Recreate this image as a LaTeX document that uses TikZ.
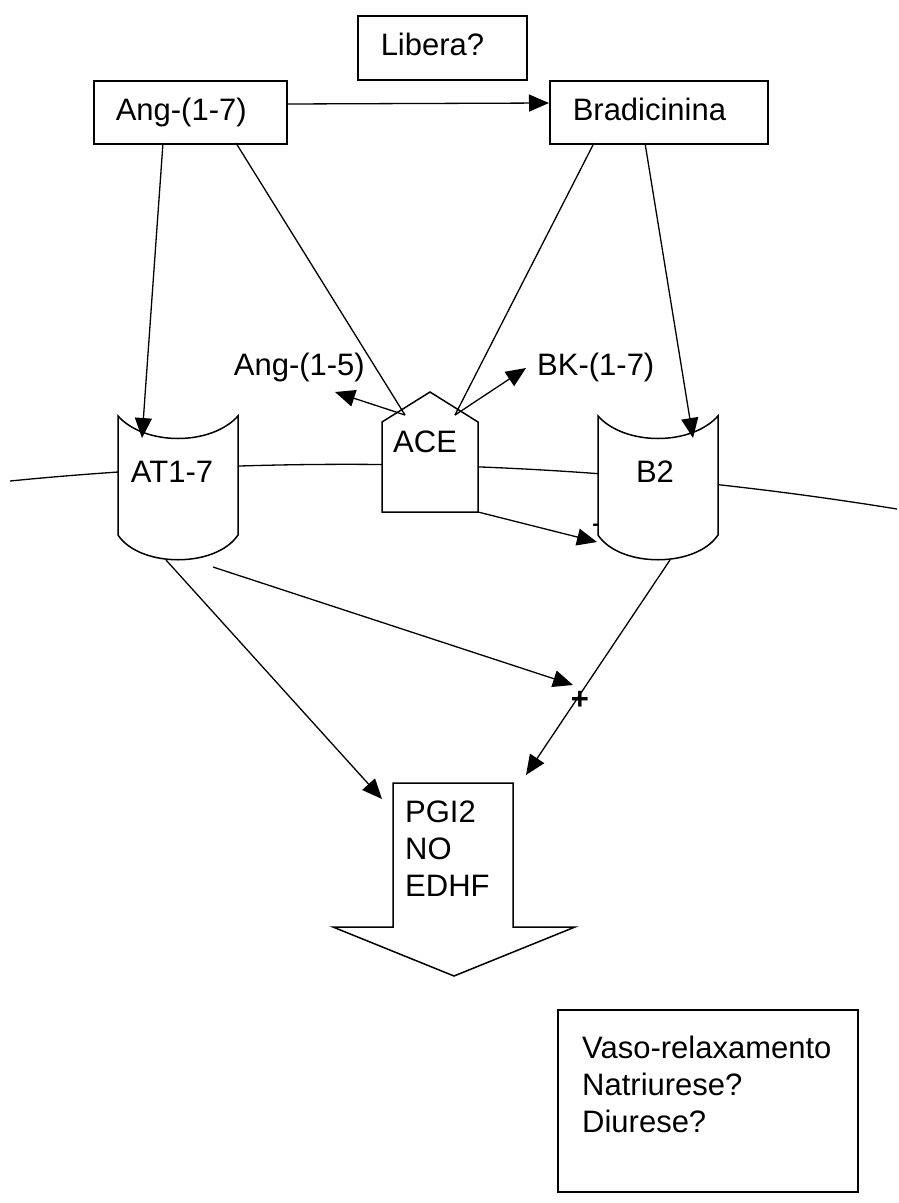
\documentclass[tikz,border=0pt]{standalone}
\usepackage{fontspec}
\setmainfont{Liberation Sans}
\usetikzlibrary{arrows.meta}
\begin{document}
\begin{tikzpicture}[x=1pt,y=-1pt,
  every node/.style={font=\fontsize{31}{37}\selectfont},
  shapeline/.style={line width=1.5pt, fill=white},
  conn/.style={line width=1.3pt},
  arr/.style={conn, -{Triangle[length=20pt,width=17pt]}},
  box/.style={draw, line width=1.5pt, fill=white, rectangle, anchor=north west, align=left, inner ysep=0pt, text height=22pt, text depth=6pt},
  lbl/.style={inner sep=0pt},
]
\useasboundingbox (0,0) rectangle (899,1203);
% membrane
\draw[line width=1.3pt] (10,481) .. controls (305.7,451.7) and (601.3,461) .. (897,509);
% top boxes
\node[box, minimum width=169pt, minimum height=64pt, text width=123pt, inner xsep=23pt] (libera) at (357,15) {Libera?};
\node[box, minimum width=193pt, minimum height=63pt, text width=149pt, inner xsep=22pt] (ang) at (93,80) {Ang-(1-7)};
\node[box, minimum width=218pt, minimum height=63pt, text width=172pt, inner xsep=23pt] (brad) at (549,80) {Bradicinina};
% minus sign (partly hidden by B2)
\node[lbl] (minus) at (597,529) {-};
% receptors
\draw[shapeline] (118,416) .. controls (145,446) and (211,446) .. (238,416) -- (238,535) .. controls (216,568) and (140,568) .. (118,535) -- cycle;
\node[lbl, anchor=base] (at17) at (172,482) {AT1-7};
\draw[shapeline] (598,416) .. controls (625,446) and (691,446) .. (718,416) -- (718,535) .. controls (696,568) and (620,568) .. (598,535) -- cycle;
\node[lbl, anchor=base] (b2) at (655,482) {B2};
% ACE
\draw[shapeline] (382,422) -- (430,392) -- (478,422) -- (478,512) -- (382,512) -- cycle;
\node[lbl, anchor=base west] (ace) at (393,452) {ACE};
% labels
\node[lbl, anchor=base east] (ang15) at (365,375) {Ang-(1-5)};
\node[lbl, anchor=base west] (bk17) at (537,375) {BK-(1-7)};
% PGI2 block arrow
\draw[shapeline] (393,783) -- (513,783) -- (513,927) -- (575,927) -- (454,976) -- (333,927) -- (393,927) -- cycle;
\node[lbl, anchor=north west, align=left] (pgi) at (405,801) {PGI2\\NO\\EDHF};
% result box
\draw[shapeline] (558,1010) rectangle (858,1192);
\node[lbl, anchor=north west, align=left] (vaso) at (582,1036) {Vaso-relaxamento\\Natriurese?\\Diurese?};
% plus
\node[lbl, font=\fontsize{31}{37}\selectfont\bfseries] (plus) at (580,700) {+};
% coordinates
\coordinate (a1) at (163,143);
\coordinate (t1) at (142,438);
\coordinate (a2) at (236,143);
\coordinate (c1) at (405,415);
\coordinate (b1) at (645,143);
\coordinate (t2) at (693,438);
\coordinate (b2s) at (594,143);
\coordinate (c2) at (455,415);
\coordinate (e15) at (335,392);
\coordinate (e17) at (526,368);
\coordinate (angE) at (286,104);
\coordinate (bradW) at (549,103);
\coordinate (aceC) at (478,512);
\coordinate (b2L) at (597,542);
\coordinate (at1s) at (213,567);
\coordinate (plusT) at (573,685);
\coordinate (b2b) at (670,560);
\coordinate (pgiR) at (526,775);
\coordinate (at1b) at (166,560);
\coordinate (pgiL) at (382,799);
% connectors
\draw[arr] (angE) -- (bradW);
\draw[arr] (a1) -- (t1);
\draw[conn] (a2) -- (c1);
\draw[arr] (b1) -- (t2);
\draw[conn] (b2s) -- (c2);
\draw[arr] (c1) -- (e15);
\draw[arr] (c2) -- (e17);
\draw[arr] (aceC) -- (b2L);
\draw[arr] (at1s) -- (plusT);
\draw[arr] (b2b) -- (pgiR);
\draw[arr] (at1b) -- (pgiL);
\end{tikzpicture}
\end{document}
